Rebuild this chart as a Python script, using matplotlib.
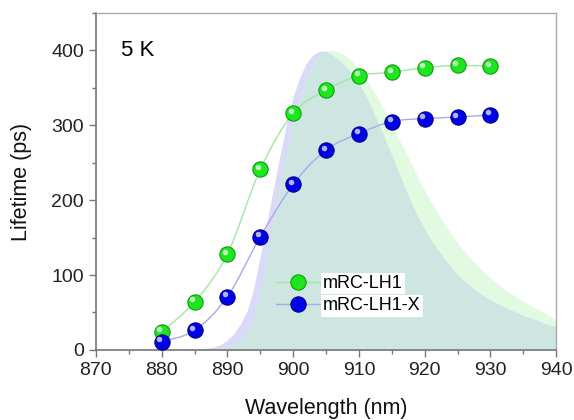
import matplotlib
matplotlib.use("Agg")
import numpy as np
import matplotlib.pyplot as plt
import matplotlib.transforms as mtrans
from matplotlib.path import Path
from matplotlib.patches import PathPatch
from matplotlib.lines import Line2D
from matplotlib.legend_handler import HandlerTuple

plt.rcParams.update({"font.family": ["Liberation Sans", "DejaVu Sans"], "font.size": 14})

# lifetimes (ps)
wl = [880, 885, 890, 895, 900, 905, 910, 915, 920, 925, 930]
life_lh1 = [24, 64, 128, 241, 316, 347, 366, 371, 377, 380, 379]
life_lh1x = [11, 26, 71, 151, 221, 267, 289, 305, 309, 311, 314]

# emission spectra behind the points, scaled to the lifetime axis
spec_nm = list(range(880, 941))
spec_blue = [0, 0, 0, 0, 0.5, 1, 1.5, 2.5, 4, 7,
             13, 22, 35, 52, 82, 125, 170, 215, 260, 302,
             338, 364, 383, 394, 399, 399, 394, 387, 379, 369,
             356, 340, 322, 302, 281, 260, 238, 217, 196, 177,
             161, 146, 134, 122, 111, 101, 92, 85, 78, 72,
             67, 62, 58, 54, 50, 46, 43, 40, 36, 33, 31]
spec_green = [0, 0, 0, 0, 0, 0, 0.5, 1, 1.5, 2.5,
              4, 7, 12, 22, 40, 78, 122, 170, 218, 262,
              300, 334, 362, 381, 393, 399, 400, 398, 393, 385,
              375, 363, 349, 334, 318, 301, 284, 266, 248, 230,
              213, 197, 182, 168, 155, 143, 132, 122, 113, 104,
              96, 89, 82, 76, 70, 65, 60, 55, 50, 45, 40]

LAV = "#d9d9f8"
PALE = "#e2f9e2"
TEAL = "#cde6e1"
MS = 11


def smooth_path(x, y):
    """Catmull-Rom through the points, as cubic Bezier segments."""
    p = np.column_stack([x, y]).astype(float)
    ext = np.vstack([p[0], p, p[-1]])
    verts, codes = [p[0]], [Path.MOVETO]
    for i in range(len(p) - 1):
        a, b, c, d = ext[i], ext[i + 1], ext[i + 2], ext[i + 3]
        verts += [b + (c - a) / 6, c - (d - b) / 6, c]
        codes += [Path.CURVE4] * 3
    return Path(verts, codes)


def balls(ax, x, y, fc, ec, lc, label):
    ax.add_patch(PathPatch(smooth_path(x, y), fc="none", ec=lc, lw=1.0, zorder=3))
    ax.plot(x, y, "o", ms=MS, mfc=fc, mec=ec, mew=0.8, zorder=4)
    shine = mtrans.offset_copy(ax.transData, fig=ax.figure, x=-1.6, y=1.8, units="points")
    ax.plot(x, y, "o", ms=4, mfc="white", mec="none", alpha=0.7, zorder=5,
            transform=shine)
    h_line = Line2D([], [], color=lc, lw=1.0)
    h_ball = Line2D([], [], ls="none", marker="o", ms=MS, mfc=fc, mec=ec, mew=0.8)
    return (h_line, h_ball), label


fig = plt.figure(figsize=(5.74, 4.2), dpi=100)
ax = fig.add_axes([0.167, 0.167, 0.802, 0.802])

sb = np.array(spec_blue)
sg = np.array(spec_green)
ax.fill_between(spec_nm, 0, sb, color=LAV, lw=0, zorder=1)
ax.fill_between(spec_nm, 0, sg, color=PALE, lw=0, zorder=1)
ax.fill_between(spec_nm, 0, np.minimum(sb, sg), color=TEAL, lw=0, zorder=2)

handles = [balls(ax, wl, life_lh1, "#1ee61e", "#0c9c0c", "#9fe89f", "mRC-LH1"),
           balls(ax, wl, life_lh1x, "#0000e6", "#00008c", "#a8a8ee", "mRC-LH1-X")]

leg = ax.legend([h for h, _ in handles], [t for _, t in handles],
                handler_map={tuple: HandlerTuple(ndivide=1, pad=0)},
                loc="upper left", bbox_to_anchor=(0.392, 0.222), frameon=False,
                fontsize=13, handlelength=2.4, handletextpad=0.2,
                labelspacing=0.3, borderpad=0, borderaxespad=0)
for t in leg.get_texts():
    t.set_bbox(dict(fc="white", ec="none", pad=1.5))

ax.text(0.055, 0.89, "5 K", transform=ax.transAxes, fontsize=16, va="center")

ax.set_xlim(870, 940)
ax.set_ylim(0, 450)
ax.set_xticks(range(870, 941, 10))
ax.set_xticks(range(875, 940, 10), minor=True)
ax.set_yticks(range(0, 401, 100))
ax.set_yticks(range(50, 451, 100), minor=True)
ax.tick_params(which="both", direction="out", color="#777", width=1,
               labelcolor="#222", top=False, right=False)
ax.tick_params(which="major", length=5, labelsize=14)
ax.tick_params(which="minor", length=3)
for s in ("left", "bottom"):
    ax.spines[s].set_color("#777")
    ax.spines[s].set_linewidth(1.2)
for s in ("top", "right"):
    ax.spines[s].set_color("#aaa")
    ax.spines[s].set_linewidth(1.0)

ax.set_xlabel("Wavelength (nm)", fontsize=15.5, labelpad=14, color="#111")
ax.set_ylabel("Lifetime (ps)", fontsize=15.5, labelpad=14, color="#111")

fig.savefig("out.png", dpi=100)
